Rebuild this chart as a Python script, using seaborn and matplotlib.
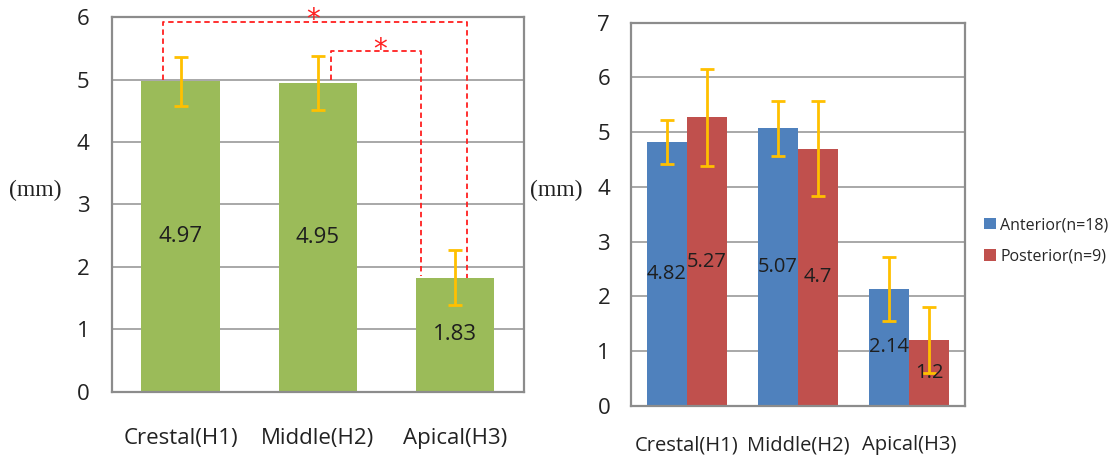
import matplotlib
matplotlib.use("Agg")
import matplotlib.pyplot as plt
import seaborn as sns
import pandas as pd

# ---------------- data ----------------
categories = ["Crestal(H1)", "Middle(H2)", "Apical(H3)"]
overall_mean = [4.97, 4.95, 1.83]
overall_sd = [0.39, 0.43, 0.44]

groups = ["Anterior(n=18)", "Posterior(n=9)"]
anterior_mean = [4.82, 5.07, 2.14]
anterior_sd = [0.40, 0.50, 0.59]
posterior_mean = [5.27, 4.70, 1.20]
posterior_sd = [0.88, 0.87, 0.60]

# significance brackets (x in category units, y in mm)
sig_outer = dict(x0=-0.13, x1=2.085, y0=4.99, ytop=5.92, y1=1.82)
sig_inner = dict(x0=1.095, x1=1.75, y0=4.99, ytop=5.45, y1=1.85)

# ---------------- style ----------------
sns.set_theme(style="white")
plt.rcParams["font.family"] = ["Open Sans", "DejaVu Sans"]

GREEN = "#9BBB59"
BLUE = "#4F81BD"
RED = "#C0504D"
ERR = "#FFC000"
GRID = "#9a9a9a"
SPINE = "#8c8c8c"
TXT = "#1e1e1e"

fig = plt.figure(figsize=(11.14, 4.61), dpi=100)
axL = fig.add_axes([0.1005, 0.1497, 0.3698, 0.8134])
axR = fig.add_axes([0.5664, 0.1193, 0.2998, 0.8315])

# ---------------- left panel ----------------
dfL = pd.DataFrame({"cat": categories, "val": overall_mean})
sns.barplot(data=dfL, x="cat", y="val", color=GREEN, width=0.57,
            saturation=1, errorbar=None, ax=axL, zorder=2)
for p in axL.patches:
    p.set_edgecolor("none")
xs = [p.get_x() + p.get_width() / 2 for p in axL.patches]
axL.errorbar(xs, overall_mean, yerr=overall_sd, fmt="none", ecolor=ERR,
             elinewidth=2, capsize=5, capthick=2, zorder=3)
axL.bar_label(axL.containers[0], fmt="%g", label_type="center",
              fontsize=16, color=TXT)
axL.set_ylim(0, 6)
axL.set_xlim(-0.5, 2.5)
axL.set_yticks(range(0, 7))

# significance brackets
def bracket(ax, d):
    ax.plot([d["x0"], d["x0"], d["x1"], d["x1"]],
            [d["y0"], d["ytop"], d["ytop"], d["y1"]],
            color="#FF2020", lw=1.3, ls=(0, (3, 2)), zorder=4, clip_on=False)

bracket(axL, sig_outer)
bracket(axL, sig_inner)
axL.text(0.964, 5.95, "*", color="#FF2020", fontsize=20, ha="center",
         va="center", clip_on=False, zorder=5, family="DejaVu Sans")
axL.text(1.45, 5.48, "*", color="#FF2020", fontsize=20, ha="center",
         va="center", clip_on=False, zorder=5, family="DejaVu Sans")

# ---------------- right panel ----------------
dfR = pd.DataFrame({
    "cat": categories * 2,
    "group": [groups[0]] * 3 + [groups[1]] * 3,
    "val": anterior_mean + posterior_mean,
})
sns.barplot(data=dfR, x="cat", y="val", hue="group", hue_order=groups,
            palette=[BLUE, RED], width=0.72, saturation=1, errorbar=None,
            ax=axR, zorder=2)
for p in axR.patches:
    p.set_edgecolor("none")
for cont, means, sds in zip(axR.containers, [anterior_mean, posterior_mean],
                            [anterior_sd, posterior_sd]):
    cx = [b.get_x() + b.get_width() / 2 for b in cont]
    axR.errorbar(cx, means, yerr=sds, fmt="none", ecolor=ERR,
                 elinewidth=2, capsize=5, capthick=2, zorder=3)
    axR.bar_label(cont, fmt="%g", label_type="center", fontsize=14.5,
                  color=TXT, zorder=4)
axR.set_ylim(0, 7)
axR.set_xlim(-0.5, 2.5)
axR.set_yticks(range(0, 8))

handles, labels = axR.get_legend_handles_labels()
if axR.get_legend() is not None:
    axR.get_legend().remove()
fig.legend(handles[:2], labels[:2], loc="center left",
           bbox_to_anchor=(0.878, 0.478), frameon=False, fontsize=11.5,
           handlelength=0.75, handleheight=0.75, handletextpad=0.25,
           labelspacing=0.95, borderaxespad=0)

# ---------------- common axes styling ----------------
for ax, ypad, xpad, xfs in [(axL, 16, 26, 16), (axR, 15, 21, 14.5)]:
    ax.set_xlabel("")
    ax.set_ylabel("")
    ax.yaxis.grid(True, color=GRID, lw=1.2, zorder=0)
    ax.xaxis.grid(False)
    ax.set_axisbelow(True)
    for s in ax.spines.values():
        s.set_visible(True)
        s.set_color(SPINE)
        s.set_linewidth(1.6)
    ax.tick_params(axis="y", length=0, pad=ypad, labelsize=16, labelcolor="#222222")
    ax.tick_params(axis="x", length=0, pad=xpad, labelsize=xfs, labelcolor="#222222")

fig.text(35 / 1114, 1 - 190 / 461, "(mm)", family="Liberation Serif",
         fontsize=17, ha="center", va="center", color="#222222")
fig.text(556 / 1114, 1 - 190 / 461, "(mm)", family="Liberation Serif",
         fontsize=17, ha="center", va="center", color="#222222")

fig.savefig("out.png", dpi=100)
